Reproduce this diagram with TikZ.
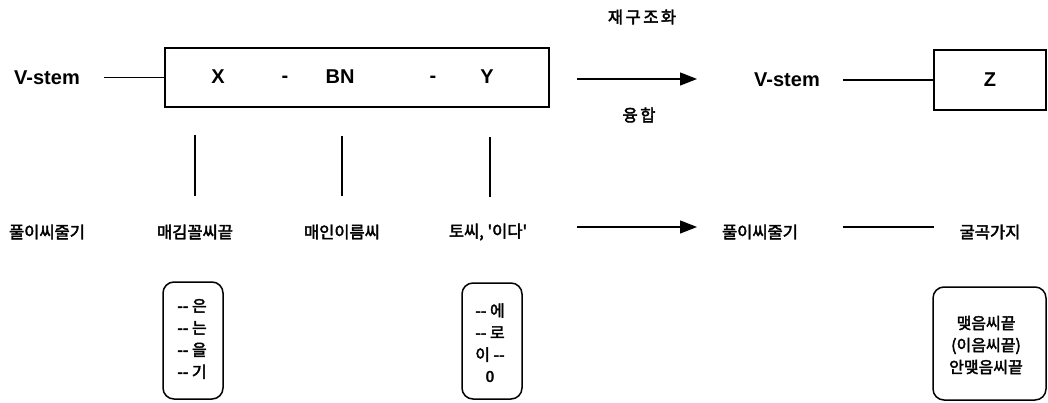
\documentclass[tikz,border=0pt]{standalone}
\usepackage{fontspec}
\setmainfont{Liberation Sans}
\newfontfamily\kr[FakeBold=2.5]{Noto Sans CJK KR}
\newfontfamily\krw[FakeBold=2.5,LetterSpace=15]{Noto Sans CJK KR}
\usetikzlibrary{arrows.meta}
\begin{document}
\begin{tikzpicture}[x=1pt,y=-1pt,
  lbl/.style={inner sep=0pt,font=\bfseries\fontsize{20}{24}\selectfont},
  kor/.style={inner sep=0pt,font=\kr\fontsize{16.5}{20}\selectfont},
  korw/.style={inner sep=0pt,font=\krw\fontsize{16.5}{20}\selectfont},
  inbox/.style={inner sep=0pt,font=\kr\fontsize{16}{22}\selectfont},
  ln/.style={line width=1.3pt},
  arr/.style={ln,-{Triangle[length=17pt,width=13pt]}},
  sqbox/.style={draw,line width=1.3pt,inner sep=0pt},
  rbox/.style={draw,line width=1.5pt,rounded corners=11pt,inner sep=0pt}]
\useasboundingbox (0,0) rectangle (1048,403);
% top row
\node[lbl] (vstemL) at (47,78) {V-stem};
\node[sqbox,minimum width=384pt,minimum height=59pt] (bigbox) at (357,77.5) {};
\node[lbl] (X) at (218,77) {X};
\node[lbl] (d1) at (285,79) {-};
\node[lbl] (BN) at (340,77) {BN};
\node[lbl] (d2) at (433,79) {-};
\node[lbl] (Y) at (487,77) {Y};
\coordinate (c1) at (104,77.5);
\draw[ln] (c1) -- (bigbox.west);
\coordinate (a1s) at (577,79);
\coordinate (a1e) at (697,79);
\draw[arr] (a1s) -- (a1e);
\node[korw] (restr) at (642,17) {재구조화};
\node[korw] (fus) at (639,115) {융합};
\node[lbl] (vstemR) at (787,80) {V-stem};
\node[sqbox,minimum width=112pt,minimum height=60pt] (zbox) at (990,80) {};
\node[lbl] (Z) at (zbox.center) {Z};
\coordinate (c2) at (843,80);
\draw[ln] (c2) -- (zbox.west);
% vertical lines
\coordinate (v1t) at (195,135); \coordinate (v1b) at (195,196);
\coordinate (v2t) at (342,136); \coordinate (v2b) at (342,196);
\coordinate (v3t) at (490,137); \coordinate (v3b) at (490,197);
\draw[ln] (v1t) -- (v1b);
\draw[ln] (v2t) -- (v2b);
\draw[ln] (v3t) -- (v3b);
% second row
\node[kor] (pul1) at (47,232) {풀이씨줄기};
\node[kor] (maegim) at (195,232) {매김꼴씨끝};
\node[kor] (maein) at (342,232) {매인이름씨};
\node[kor] (tossi) at (488,232) {토씨, '이다'};
\coordinate (a2s) at (577,227);
\coordinate (a2e) at (697,227);
\draw[arr] (a2s) -- (a2e);
\node[kor] (pul2) at (760,232) {풀이씨줄기};
\coordinate (c3) at (843,227);
\coordinate (c4) at (934,227);
\draw[ln] (c3) -- (c4);
\node[kor] (gulgok) at (990,232) {굴곡가지};
% rounded boxes
\node[rbox,minimum width=60pt,minimum height=117pt] (rb1) at (193,340.5) {};
\node[inbox,align=left] (t1) at (192,339) {-{}- 은\\-{}- 는\\-{}- 을\\-{}- 기};
\node[rbox,minimum width=60pt,minimum height=116pt] (rb2) at (492,341) {};
\node[inbox,align=center] (t2) at (490,343) {-{}- 에\\-{}- 로\\이 -{}-\\{\rmfamily\bfseries 0}};
\node[rbox,minimum width=113pt,minimum height=113pt] (rb3) at (989.5,343.5) {};
\node[inbox,align=center] (t3) at (986,345) {맺음씨끝\\(이음씨끝)\\안맺음씨끝};
\end{tikzpicture}
\end{document}
